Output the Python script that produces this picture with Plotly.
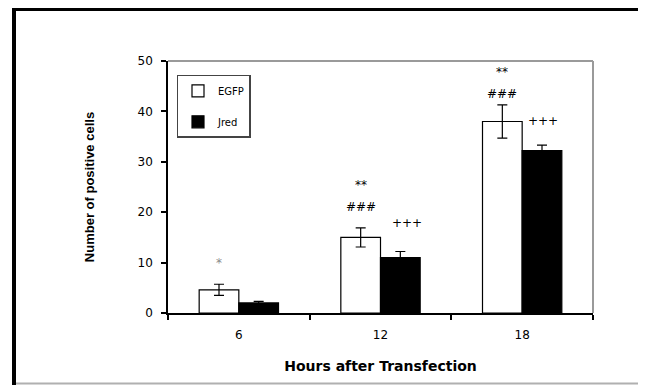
import plotly.graph_objects as go

categories = ["6", "12", "18"]
egfp = [4.6, 15.0, 38.0]
egfp_err = [1.1, 1.9, 3.3]
jred = [2.0, 11.0, 32.2]
jred_err = [0.3, 1.2, 1.1]

xpos = [1, 2, 3]

fig = go.Figure()
fig.add_trace(go.Bar(
    x=xpos, y=egfp, name="EGFP", legendgroup="a",
    marker=dict(color="white", line=dict(color="black", width=1.2)),
    error_y=dict(type="data", array=egfp_err, color="black", thickness=1.2, width=5),
))
fig.add_trace(go.Bar(
    x=xpos, y=jred, name="Jred", legendgroup="b",
    marker=dict(color="black", line=dict(color="black", width=1.2)),
    error_y=dict(type="data", array=jred_err, color="black", thickness=1.2, width=5),
))

# page body has an 8px margin, so the figure is drawn 8px right/down
OFF = 8
W, H = 646 - OFF, 385 - OFF
L, R, T, B = 168 - OFF, 593 - OFF, 61 - OFF, 313 - OFF
pw, ph = R - L, B - T

def px2x(p):
    return (p - OFF - L) / pw

def py2y(p):
    return (B - (p - OFF)) / ph

# significance marks (x in category units, y in data units)
marks = [
    (1 - 0.14, 10.0, "*", "#8a8a8a"),
    (2 - 0.14, 25.3, "**", "black"),
    (2 - 0.14, 21.0, "###", "black"),
    (2 + 0.19, 17.8, "+++", "black"),
    (3 - 0.14, 47.8, "**", "black"),
    (3 - 0.14, 43.4, "###", "black"),
    (3 + 0.15, 38.1, "+++", "black"),
]
annotations = []
for x, y, t, c in marks:
    annotations.append(dict(x=x, y=y, xref="x", yref="y", text=t, showarrow=False,
                            font=dict(family="DejaVu Sans", size=12, color=c)))

shapes = [
    # gray top and right plot border
    dict(type="line", xref="paper", yref="paper", x0=0, x1=1, y0=1, y1=1,
         line=dict(color="#9a9a9a", width=2)),
    dict(type="line", xref="paper", yref="paper", x0=1, x1=1, y0=0, y1=1,
         line=dict(color="#9a9a9a", width=2)),
    # outer frame
    dict(type="line", xref="paper", yref="paper", x0=px2x(14), x1=px2x(14),
         y0=py2y(9), y1=py2y(390), line=dict(color="black", width=4)),
    dict(type="line", xref="paper", yref="paper", x0=px2x(12), x1=px2x(660),
         y0=py2y(9.5), y1=py2y(9.5), line=dict(color="black", width=3)),
    dict(type="line", xref="paper", yref="paper", x0=px2x(16), x1=px2x(660),
         y0=py2y(383.5), y1=py2y(383.5), line=dict(color="#b0b0b0", width=2)),
]

fig.update_layout(
    width=W, height=H,
    margin=dict(l=L, r=W - R, t=T, b=H - B),
    paper_bgcolor="white", plot_bgcolor="white",
    barmode="group", bargap=0.44, bargroupgap=0,
    showlegend=True,
    legend=dict(x=0.02, y=0.945, xanchor="left", yanchor="top",
                bordercolor="#444", borderwidth=1.5, bgcolor="white",
                font=dict(family="DejaVu Sans", size=10, color="black"),
                itemwidth=30, tracegroupgap=12),
    font=dict(family="DejaVu Sans", size=12, color="black"),
    annotations=annotations,
    shapes=shapes,
)
fig.update_xaxes(
    range=[0.5, 3.5], tickmode="array", tickvals=xpos, ticktext=categories,
    ticks="", showgrid=False, zeroline=False,
    showline=True, linecolor="black", linewidth=1.5,
    tickfont=dict(family="DejaVu Sans", size=12, color="black"),
    ticklabelstandoff=10,
    minor=dict(tickmode="array", tickvals=[0.5, 1.5, 2.5, 3.5], ticks="outside",
               ticklen=5, tickcolor="black", tickwidth=1.5, showgrid=False),
    title=dict(text="<b>Hours after Transfection</b>", standoff=20,
               font=dict(family="DejaVu Sans", size=14, color="black")),
)
fig.update_yaxes(
    range=[0, 50], dtick=10, ticks="outside", ticklen=5, tickcolor="black", tickwidth=1.5,
    showgrid=False, zeroline=False, showline=True, linecolor="black", linewidth=1.5,
    tickfont=dict(family="DejaVu Sans", size=12, color="black"),
    ticklabelstandoff=6,
    title=dict(text="<b>Number of positive cells</b>", standoff=40,
               font=dict(family="Liberation Sans", size=13, color="black")),
)

fig.write_html("out.html")
